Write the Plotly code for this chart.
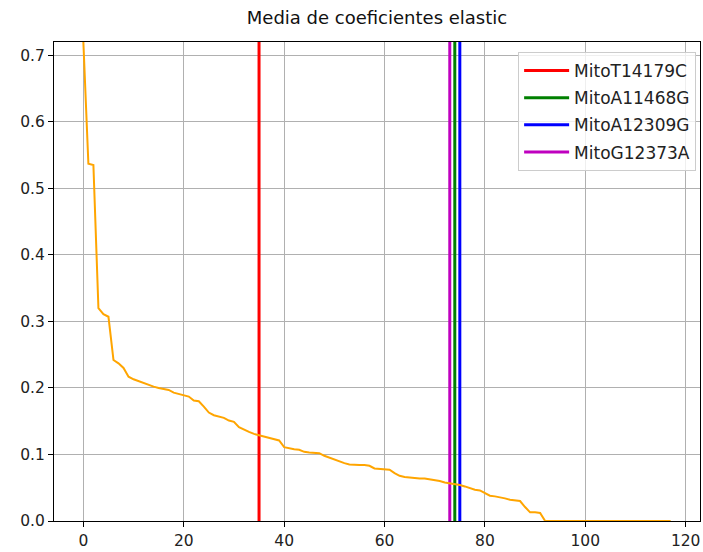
import plotly.graph_objects as go

# Mean elastic-net coefficient per feature, sorted in descending order
coef_mean = [
    0.720, 0.537, 0.535, 0.320, 0.311, 0.307, 0.242, 0.237, 0.230, 0.217,
    0.213, 0.210, 0.207, 0.204, 0.202, 0.200, 0.199, 0.197, 0.193, 0.191,
    0.190, 0.187, 0.181, 0.180, 0.172, 0.163, 0.159, 0.157, 0.155, 0.151,
    0.149, 0.141, 0.137, 0.134, 0.131, 0.129, 0.128, 0.126, 0.124, 0.121,
    0.111, 0.109, 0.108, 0.107, 0.104, 0.103, 0.103, 0.102, 0.098, 0.095,
    0.093, 0.090, 0.087, 0.085, 0.084, 0.084, 0.084, 0.083, 0.079, 0.078,
    0.078, 0.077, 0.072, 0.068, 0.066, 0.065, 0.065, 0.064, 0.064, 0.063,
    0.062, 0.060, 0.058, 0.057, 0.056, 0.054, 0.052, 0.049, 0.047, 0.046,
    0.042, 0.038, 0.037, 0.036, 0.034, 0.032, 0.031, 0.030, 0.021, 0.013,
    0.013, 0.012, 0.000, 0.000, 0.000, 0.000, 0.000, 0.000, 0.000, 0.000,
    0.000, 0.000, 0.000, 0.000, 0.000, 0.000, 0.000, 0.000, 0.000, 0.000,
    0.000, 0.000, 0.000, 0.000, 0.000, 0.000, 0.000, 0.000,
]
feature_rank = list(range(len(coef_mean)))

# Highlighted variants and their rank positions
variant_names = ["MitoT14179C", "MitoA11468G", "MitoA12309G", "MitoG12373A"]
variant_ranks = [35, 74, 75, 73]
variant_colors = ["#ff0000", "#008000", "#0000ff", "#bf00bf"]

x_ticks = [0, 20, 40, 60, 80, 100, 120]
y_ticks = [0.0, 0.1, 0.2, 0.3, 0.4, 0.5, 0.6, 0.7]

y_low = 0.0
y_high = max(coef_mean)
x_pad = 0.05 * (feature_rank[-1] - feature_rank[0])
x_low = feature_rank[0] - x_pad
x_high = feature_rank[-1] + x_pad

fig = go.Figure()

for name, rank, color in zip(variant_names, variant_ranks, variant_colors):
    fig.add_trace(go.Scatter(
        x=[rank, rank], y=[y_low - 1, y_high + 1],
        mode="lines", name=name, legendgroup=name,
        line=dict(color=color, width=3),
        hoverinfo="skip",
    ))

fig.add_trace(go.Scatter(
    x=feature_rank, y=coef_mean, mode="lines",
    line=dict(color="#ffa500", width=2),
    showlegend=False,
))

axis_common = dict(
    showline=True, linecolor="black", linewidth=1, mirror=True,
    ticks="outside", ticklen=5, tickcolor="black", tickwidth=1,
    showgrid=True, gridcolor="#b0b0b0", gridwidth=1,
    zeroline=False,
    tickfont=dict(family="DejaVu Sans", size=15.5, color="#222222"),
)

fig.update_layout(
    width=703, height=552,
    margin=dict(l=54, r=3, t=42, b=31),
    paper_bgcolor="white", plot_bgcolor="white",
    font=dict(family="DejaVu Sans", color="black"),
    title=dict(
        text="Media de coeficientes elastic",
        x=(54 + (703 - 3 - 54) / 2) / 703, xanchor="center",
        y=1 - 18 / 552, yanchor="middle",
        font=dict(family="DejaVu Sans", size=18, color="#111111"),
    ),
    xaxis=dict(range=[x_low, x_high], tickvals=x_ticks, **axis_common),
    yaxis=dict(range=[y_low, y_high], tickvals=y_ticks, tickformat=".1f",
               **axis_common),
    legend=dict(
        x=0.994, y=0.979, xanchor="right", yanchor="top",
        bgcolor="rgba(255,255,255,0.8)", bordercolor="#cccccc", borderwidth=1,
        font=dict(family="DejaVu Sans", size=17, color="#222222"),
        tracegroupgap=2, traceorder="grouped",
        itemwidth=45,
    ),
    showlegend=True,
)

fig.write_html("out.html")
